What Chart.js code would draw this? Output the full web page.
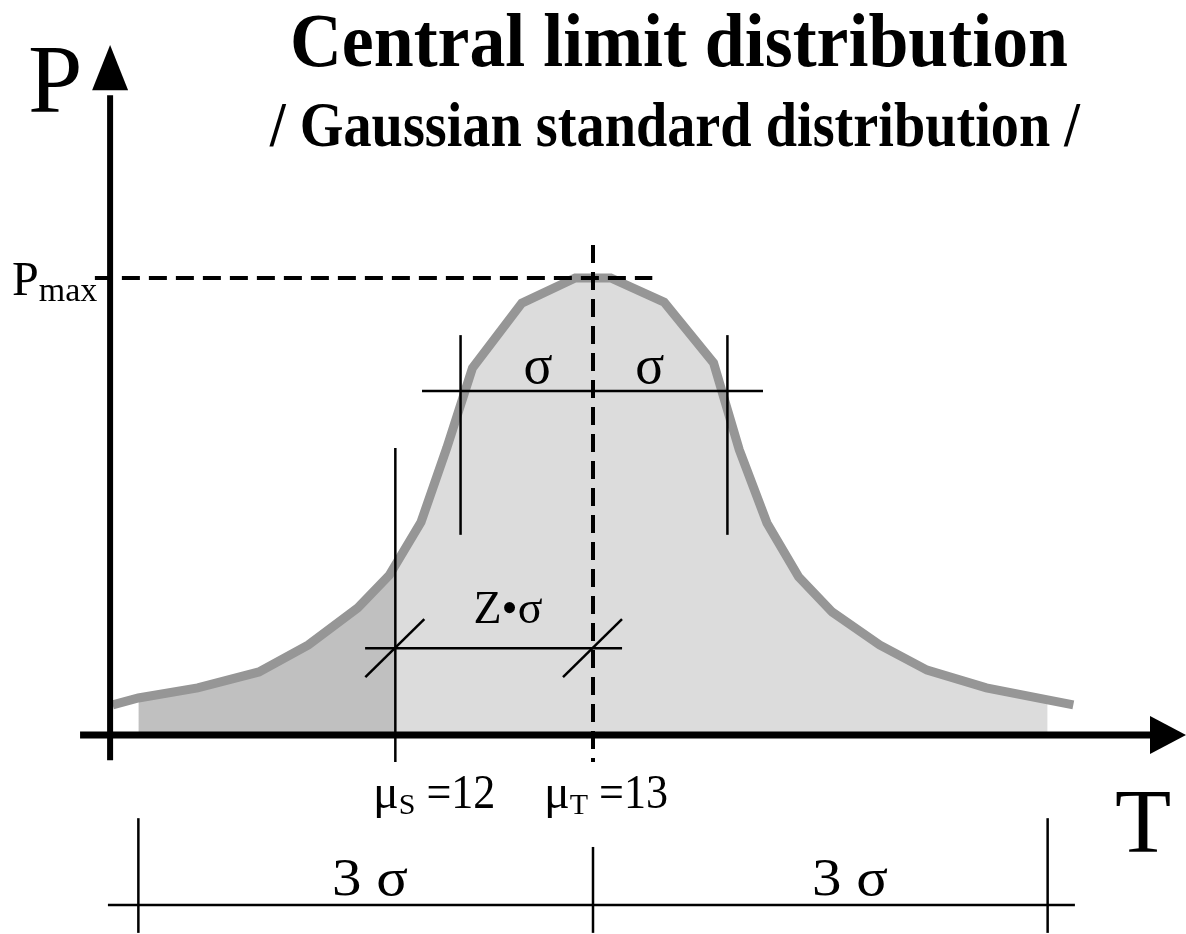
<!DOCTYPE html>
<html>
<head>
<meta charset="utf-8">
<script src="https://cdn.jsdelivr.net/npm/chart.js@4.4.1/dist/chart.umd.min.js"></script>
<style>
  html, body { margin: 0; padding: 0; background: #fff; }
  #wrap { width: 1186px; height: 934px; }
</style>
</head>
<body>
<div id="wrap"><canvas id="cltChart" width="1186" height="934"></canvas></div>
<script>
// curve: T (temperature) against P relative to Pmax
const curveT = [10.57, 10.70, 11.00, 11.31, 11.56, 11.81, 11.97, 12.13, 12.26, 12.39, 12.64, 12.91,
                13.09, 13.36, 13.61, 13.74, 13.88, 14.04, 14.21, 14.45, 14.69, 14.99, 15.30, 15.43];
const curveP = [0.066, 0.081, 0.103, 0.138, 0.197, 0.278, 0.350, 0.466, 0.628, 0.803, 0.945, 1.0,
                1.0, 0.947, 0.814, 0.624, 0.464, 0.346, 0.269, 0.197, 0.142, 0.103, 0.077, 0.066];

// key values on the T axis
const muS = 12;
const muT = 13;
const sigmaMarks = [12.33, 13.68];      // the two sigma ticks round muT
const threeSigmaMarks = [10.70, 13, 15.30];
const pMax = 1;

// labels
const titleText = "Central limit distribution";
const subtitleText = "/ Gaussian standard distribution /";

const points = curveT.map((t, i) => ({ x: t, y: curveP[i] }));
const fillPoints = points.slice(1, -1);   // shading runs between the outer 3 sigma marks

const serif = "'Liberation Serif', 'Times New Roman', serif";

// area darker left of muS, lighter right of it
function areaColor(context) {
  const chart = context.chart;
  if (!chart.chartArea) return "#dcdcdc";
  const xs = chart.scales.x;
  const p = Math.min(Math.max(xs.getPixelForValue(muS) / chart.width, 0), 1);
  const g = chart.ctx.createLinearGradient(0, 0, chart.width, 0);
  g.addColorStop(0, "#c0c0c0");
  g.addColorStop(p, "#c0c0c0");
  g.addColorStop(p, "#dcdcdc");
  g.addColorStop(1, "#dcdcdc");
  return g;
}

// draw text, squeezing it to a width if asked
function text(ctx, str, x, y, font, align, fitW) {
  ctx.save();
  ctx.font = font;
  ctx.fillStyle = "#000";
  ctx.textBaseline = "alphabetic";
  let w = ctx.measureText(str).width;
  let k = fitW ? fitW / w : 1;
  let left = x;
  if (align === "center") left = x - (w * k) / 2;
  ctx.translate(left, y);
  ctx.scale(k, 1);
  ctx.textAlign = "left";
  ctx.fillText(str, 0, 0);
  ctx.restore();
  return w * k;
}

function line(ctx, x1, y1, x2, y2, width, dash) {
  ctx.save();
  ctx.strokeStyle = "#000";
  ctx.lineWidth = width;
  ctx.setLineDash(dash || []);
  ctx.beginPath();
  ctx.moveTo(x1, y1);
  ctx.lineTo(x2, y2);
  ctx.stroke();
  ctx.restore();
}

function tri(ctx, pts) {
  ctx.save();
  ctx.fillStyle = "#000";
  ctx.beginPath();
  ctx.moveTo(pts[0], pts[1]);
  ctx.lineTo(pts[2], pts[3]);
  ctx.lineTo(pts[4], pts[5]);
  ctx.closePath();
  ctx.fill();
  ctx.restore();
}

const diagram = {
  id: "diagram",
  afterDatasetsDraw(chart) {
    const ctx = chart.ctx;
    const X = v => chart.scales.x.getPixelForValue(v);
    const Y = v => chart.scales.y.getPixelForValue(v);
    const dash = [18, 9];

    // axes with arrows
    const yAxisT = 10.557;
    line(ctx, X(yAxisT), Y(-0.055), X(yAxisT), Y(1.40), 6);
    tri(ctx, [X(yAxisT), Y(1.51), X(yAxisT) - 18, Y(1.411), X(yAxisT) + 18, Y(1.411)]);
    line(ctx, X(10.405), Y(0), X(15.83), Y(0), 7);
    tri(ctx, [X(16.0), Y(0), X(15.818), Y(0) - 19, X(15.818), Y(0) + 19]);

    // Pmax and muT dashed guides
    line(ctx, X(10.48), Y(pMax), X(13.30), Y(pMax), 4, dash);
    line(ctx, X(muT), Y(1.072), X(muT), Y(-0.059), 4, dash);

    // sigma marks
    line(ctx, X(12.135), Y(0.753), X(13.86), Y(0.753), 2.5);
    sigmaMarks.forEach(t => line(ctx, X(t), Y(0.875), X(t), Y(0.438), 2.5));

    // z * sigma
    line(ctx, X(muS), Y(0.628), X(muS), Y(-0.059), 2.5);
    line(ctx, X(11.847), Y(0.19), X(13.147), Y(0.19), 2.5);
    [muS, muT].forEach(t => line(ctx, X(t) - 30, Y(0.19) + 29, X(t) + 29, Y(0.19) - 29, 2.5));

    // 3 sigma dimension below
    line(ctx, X(10.546), Y(-0.372), X(15.438), Y(-0.372), 2.5);
    line(ctx, X(threeSigmaMarks[0]), Y(-0.182), X(threeSigmaMarks[0]), Y(-0.433), 2.5);
    line(ctx, X(threeSigmaMarks[1]), Y(-0.245), X(threeSigmaMarks[1]), Y(-0.433), 2.5);
    line(ctx, X(threeSigmaMarks[2]), Y(-0.182), X(threeSigmaMarks[2]), Y(-0.433), 2.5);

    // texts
    text(ctx, titleText, 679, 66, "bold 77px " + serif, "center", 778);
    text(ctx, subtitleText, 675, 146, "bold 64px " + serif, "center", 810);
    text(ctx, "P", X(10.142), Y(1.363), "98px " + serif, "left");
    text(ctx, "T", X(15.641), Y(-0.256), "92px " + serif, "left");

    let w = text(ctx, "P", X(10.061), Y(0.963), "48px " + serif, "left");
    text(ctx, "max", X(10.061) + w, Y(0.950), "34px " + serif, "left");

    text(ctx, "σ", X(12.722), Y(0.770), "54px " + serif, "center");
    text(ctx, "σ", X(13.288), Y(0.770), "54px " + serif, "center");
    text(ctx, "Z•σ", X(12.57), Y(0.245), "46px " + serif, "center");

    [[11.887, "S", "12"], [12.752, "T", "13"]].forEach(m => {
      let x = X(m[0]);
      const base = Y(-0.160);
      x += text(ctx, "μ", x, base, "48px " + serif, "left");
      x += text(ctx, m[1], x, base + 6, "30px " + serif, "left");
      text(ctx, " =" + m[2], x, base, "48px " + serif, "left", 80);
    });

    text(ctx, "3 σ", X(11.872), Y(-0.350), "52px " + serif, "center", 76);
    text(ctx, "3 σ", X(14.30), Y(-0.350), "52px " + serif, "center", 76);
  }
};

const config = {
  type: "line",
  data: {
    datasets: [
      {
        label: "curve",
        data: points,
        borderColor: "#969696",
        borderWidth: 9,
        borderJoinStyle: "miter",
        fill: false,
        pointRadius: 0,
        tension: 0,
        clip: false,
        order: 1
      },
      {
        label: "area",
        data: fillPoints,
        borderWidth: 0,
        borderColor: "rgba(0,0,0,0)",
        backgroundColor: areaColor,
        fill: "origin",
        pointRadius: 0,
        tension: 0,
        order: 2
      }
    ]
  },
  options: {
    responsive: false,
    animation: false,
    layout: { padding: { top: 278, bottom: 199, left: 0, right: 0 } },
    plugins: { legend: { display: false }, tooltip: { enabled: false }, title: { display: false } },
    scales: {
      x: { type: "linear", min: 10, max: 16, display: false },
      y: { type: "linear", min: 0, max: 1, display: false }
    }
  },
  plugins: [diagram]
};

const ctx = document.getElementById("cltChart").getContext("2d");
const myChart = new Chart(ctx, config);
</script>
</body>
</html>
